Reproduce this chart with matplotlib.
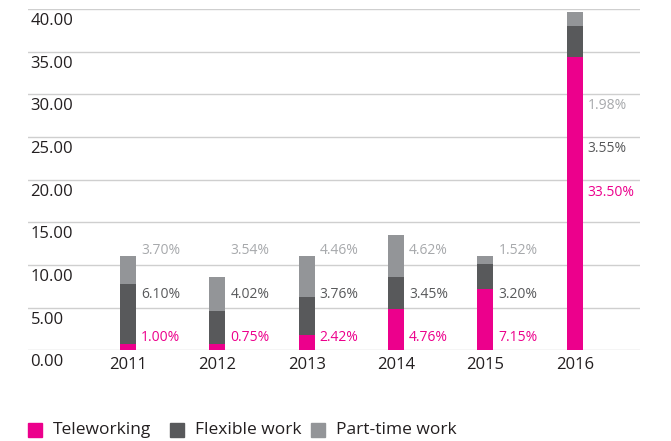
import matplotlib
matplotlib.use("Agg")
import matplotlib.pyplot as plt
import matplotlib.transforms as mtransforms
from matplotlib.patches import Rectangle
import numpy as np

plt.rcParams['font.family'] = ['Open Sans', 'DejaVu Sans']

# data
years = ["2011", "2012", "2013", "2014", "2015", "2016"]
# bar segment heights as drawn
teleworking = [0.75, 0.74, 1.76, 4.81, 7.16, 34.4]
flexible = [7.0, 3.84, 4.46, 3.76, 2.93, 3.6]
parttime = [3.25, 3.99, 4.8, 4.93, 0.94, 1.7]
# printed value labels
tele_labels = ["1.00%", "0.75%", "2.42%", "4.76%", "7.15%", "33.50%"]
flex_labels = ["6.10%", "4.02%", "3.76%", "3.45%", "3.20%", "3.55%"]
part_labels = ["3.70%", "3.54%", "4.46%", "4.62%", "1.52%", "1.98%"]
series_names = ["Teleworking", "Flexible work", "Part-time work"]
yticks = [0, 5, 10, 15, 20, 25, 30, 35, 40]

c_tele = "#EC008C"
c_flex = "#58595B"
c_part = "#939598"
c_text = "#231F20"

fig = plt.figure(figsize=(6.71, 4.41), dpi=100)
ax = fig.add_axes([28/671, 1 - 350.3/441, 612/671, (350.3 - 9)/441])

x = np.arange(len(years))
w = 0.18
tele = np.array(teleworking)
flex = np.array(flexible)
part = np.array(parttime)
ax.bar(x, tele, w, color=c_tele, zorder=3)
ax.bar(x, flex, w, bottom=tele, color=c_flex, zorder=3)
ax.bar(x, part, w, bottom=tele + flex, color=c_part, zorder=3)

ax.set_xlim(-1.12, 5.73)
ax.set_ylim(0, 40)
for v in yticks:
    ax.axhline(v, color="#CFCFCF", lw=1, zorder=1)
ax.set_xticks([])
ax.set_yticks([])
for s in ax.spines.values():
    s.set_visible(False)

# y tick labels sit just under each grid line
ytrans = mtransforms.offset_copy(ax.get_yaxis_transform(), fig=fig, x=0, y=-12, units='dots')
for v in yticks:
    ax.text(0.004, v, f"{v:.2f}", transform=ytrans, ha="left", va="center",
            fontsize=12, color=c_text)

xtrans = mtransforms.offset_copy(ax.transData, fig=fig, x=0, y=-15, units='dots')
for i, yr in enumerate(years):
    ax.text(i, 0, yr, transform=xtrans, ha="center", va="center", fontsize=12, color=c_text)

# value labels stacked to the right of each bar
ltrans = mtransforms.offset_copy(ax.transData, fig=fig, x=5, y=0, units='dots')
for i in range(len(years)):
    base = 18.5 if i == len(years) - 1 else 1.45
    step = 5.1
    ax.text(i + w/2, base, tele_labels[i], transform=ltrans, ha="left", va="center",
            fontsize=10, color=c_tele)
    ax.text(i + w/2, base + step, flex_labels[i], transform=ltrans, ha="left", va="center",
            fontsize=10, color=c_flex)
    ax.text(i + w/2, base + 2*step, part_labels[i], transform=ltrans, ha="left", va="center",
            fontsize=10, color="#A7A9AC")

# legend drawn by hand (uneven spacing in the original)
leg_x = [28, 170, 311]
for lx, name, col in zip(leg_x, series_names, [c_tele, c_flex, c_part]):
    fig.add_artist(Rectangle((lx/671, 1 - 437/441), 14/671, 14/441,
                             transform=fig.transFigure, color=col))
    fig.text((lx + 25)/671, 1 - 430/441, name, ha="left", va="center",
             fontsize=12.5, color=c_text)

fig.savefig("out.png", dpi=100)
